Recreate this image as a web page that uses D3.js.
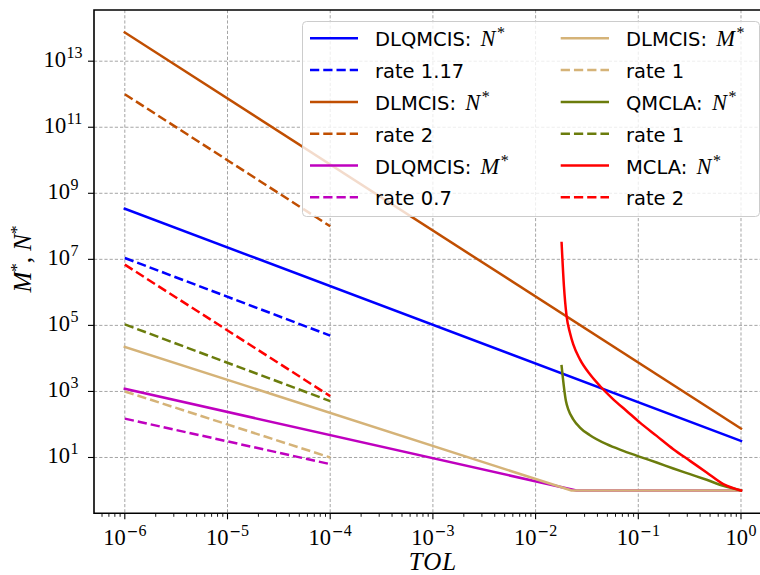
<!DOCTYPE html>
<html><head><meta charset="utf-8">
<script src="https://cdn.jsdelivr.net/npm/d3@7"></script>
<style>body{margin:0;background:#fff}svg{display:block}</style>
</head><body><svg id="chart" width="760" height="575"></svg>
<script>
// ---------- data ----------
const dlqmcisNTol = [1e-6, 1];
const dlqmcisN = [3.4e8, 31.6];
const rateDlqmcisNTol = [1e-6, 1e-4];
const rateDlqmcisN = [1.1e7, 4.9e4];
const dlmcisNTol = [1e-6, 1];
const dlmcisN = [7.4e13, 75];
const rateDlmcisNTol = [1e-6, 1e-4];
const rateDlmcisN = [1e12, 1e8];
const dlqmcisMTol = [1e-6, 0.025, 1];
const dlqmcisM = [1200, 1, 1];
const rateDlqmcisMTol = [1e-6, 1e-4];
const rateDlqmcisM = [150, 6.3];
const dlmcisMTol = [1e-6, 0.0224, 1];
const dlmcisM = [2.24e4, 1, 1];
const rateDlmcisMTol = [1e-6, 1e-4];
const rateDlmcisM = [1000, 10];
const qmclaNTol = [0.01792, 0.01974, 0.02080, 0.02327, 0.02703, 0.03383, 0.04915, 0.07143, 0.1038, 0.1509, 0.2193, 0.3187, 0.4630, 0.6728, 1];
const qmclaN = [5861, 514, 287.7, 143.6, 80.4, 47.2, 25.2, 15.85, 10.45, 7.05, 4.65, 3.13, 2.11, 1.39, 1.0];
const rateQmclaTol = [1e-6, 1e-4];
const rateQmcla = [1.07e5, 510];
const mclaNTol = [0.01792, 0.01888, 0.02004, 0.02160, 0.02327, 0.02703, 0.03383, 0.04233, 0.05706, 0.07698, 0.1038, 0.1509, 0.2193, 0.3187, 0.4630, 0.6728, 1];
const mclaN = [3.119e7, 1.531e6, 1.901e5, 5.957e4, 2.649e4, 9333, 3289, 1459, 576.8, 256.4, 113.8, 45.08, 17.82, 7.907, 3.516, 1.560, 1.0];
const rateMclaTol = [1e-6, 1e-4];
const rateMcla = [6.9e6, 720];

const legendText = ["DLQMCIS: ", "rate 1.17", "DLMCIS: ", "rate 2", "DLQMCIS: ", "rate 0.7",
                    "DLMCIS: ", "rate 1", "QMCLA: ", "rate 1", "MCLA: ", "rate 2"];
const legendMath = ["N", "", "N", "", "M", "", "M", "", "N", "", "N", ""];
const xTickExps = [-6, -5, -4, -3, -2, -1, 0];
const yTickExps = [1, 3, 5, 7, 9, 11, 13];
const xLimExp = [-6.3, 0.3];
const yLimExp = [-0.69, 14.55];

// ---------- styling ----------
const C = {blue: "#0000ff", orange: "#c04e01", magenta: "#bf00bf", tan: "#d5b378", olive: "#6b7c0c", red: "#ff0000"};
const series = [
  {tol: dlqmcisNTol, val: dlqmcisN, color: C.blue, dash: false},
  {tol: rateDlqmcisNTol, val: rateDlqmcisN, color: C.blue, dash: true},
  {tol: dlmcisNTol, val: dlmcisN, color: C.orange, dash: false},
  {tol: rateDlmcisNTol, val: rateDlmcisN, color: C.orange, dash: true},
  {tol: dlqmcisMTol, val: dlqmcisM, color: C.magenta, dash: false},
  {tol: rateDlqmcisMTol, val: rateDlqmcisM, color: C.magenta, dash: true},
  {tol: dlmcisMTol, val: dlmcisM, color: C.tan, dash: false},
  {tol: rateDlmcisMTol, val: rateDlmcisM, color: C.tan, dash: true},
  {tol: qmclaNTol, val: qmclaN, color: C.olive, dash: false, smooth: true},
  {tol: rateQmclaTol, val: rateQmcla, color: C.olive, dash: true},
  {tol: mclaNTol, val: mclaN, color: C.red, dash: false, smooth: true},
  {tol: rateMclaTol, val: rateMcla, color: C.red, dash: true}
];

const L = 94, R = 771.8, T = 10, B = 513.3;
const x = d3.scaleLog().domain([Math.pow(10, xLimExp[0]), Math.pow(10, xLimExp[1])]).range([L, R]);
const y = d3.scaleLog().domain([Math.pow(10, yLimExp[0]), Math.pow(10, yLimExp[1])]).range([B, T]);

const svg = d3.select("#chart");
const serif = "'Liberation Serif', 'DejaVu Serif', serif";
const sans = "'DejaVu Sans', sans-serif";

svg.append("defs").append("clipPath").attr("id", "clip")
  .append("rect").attr("x", L).attr("y", T).attr("width", R - L).attr("height", B - T);

// grid
const grid = svg.append("g").attr("stroke", "#8e8e8e").attr("stroke-width", 0.8).attr("stroke-dasharray", "3.2,2");
xTickExps.forEach(e => {
  const px = x(Math.pow(10, e));
  grid.append("line").attr("x1", px).attr("x2", px).attr("y1", T).attr("y2", B);
});
yTickExps.forEach(e => {
  const py = y(Math.pow(10, e));
  grid.append("line").attr("x1", L).attr("x2", R).attr("y1", py).attr("y2", py);
});

// data lines
const gData = svg.append("g").attr("clip-path", "url(#clip)");
series.forEach(s => {
  const pts = s.tol.map((t, i) => [t, s.val[i]]);
  const line = d3.line().x(d => x(d[0])).y(d => y(d[1]))
    .curve(s.smooth ? d3.curveMonotoneX : d3.curveLinear);
  gData.append("path").attr("d", line(pts)).attr("fill", "none")
    .attr("stroke", s.color).attr("stroke-width", 2.5)
    .attr("stroke-dasharray", s.dash ? "9.25,4" : null)
    .attr("stroke-linecap", s.dash ? "butt" : "square")
    .attr("stroke-linejoin", "round");
});

// axes: ticks
const ax = svg.append("g").attr("stroke", "#000");
xTickExps.forEach(e => {
  const px = x(Math.pow(10, e));
  ax.append("line").attr("x1", px).attr("x2", px).attr("y1", B).attr("y2", B + 6).attr("stroke-width", 1.1);
});
for (let e = -7; e <= 0; e++) {
  for (let m = 2; m <= 9; m++) {
    const v = m * Math.pow(10, e);
    const lv = Math.log10(v);
    if (lv < xLimExp[0] || lv > xLimExp[1]) continue;
    const px = x(v);
    ax.append("line").attr("x1", px).attr("x2", px).attr("y1", B).attr("y2", B + 3.5).attr("stroke-width", 0.9);
  }
}
yTickExps.forEach(e => {
  const py = y(Math.pow(10, e));
  ax.append("line").attr("x1", L - 6).attr("x2", L).attr("y1", py).attr("y2", py).attr("stroke-width", 1.1);
});

// spines
svg.append("path").attr("d", `M${L},${T}H${R}M${L},${T}V${B}H${R}`)
  .attr("fill", "none").attr("stroke", "#000").attr("stroke-width", 1.6).attr("stroke-linecap", "square");

// tick labels
function powLabel(g, px, py, e, anchor) {
  const t = g.append("text").attr("x", px).attr("y", py).attr("text-anchor", anchor)
    .attr("font-family", serif).attr("font-size", 22.5).attr("fill", "#000");
  t.append("tspan").text("10");
  const s = String(e);
  if (s[0] === "-") {
    t.append("tspan").attr("dy", -9).attr("dx", 1).attr("font-family", "'DejaVu Serif', serif").attr("font-size", 14).text("\u2212");
    t.append("tspan").attr("font-size", 16).text(s.slice(1));
  } else {
    t.append("tspan").attr("dy", -9).attr("dx", 0.5).attr("font-size", 16).text(s);
  }
}
const gl = svg.append("g");
xTickExps.forEach(e => powLabel(gl, x(Math.pow(10, e)), 545, e, "middle"));
yTickExps.forEach(e => powLabel(gl, 63, y(Math.pow(10, e)) + 6, e, "middle"));

// axis labels
svg.append("text").attr("x", 433).attr("y", 570).attr("text-anchor", "middle")
  .attr("font-family", serif).attr("font-style", "italic").attr("font-size", 25).attr("letter-spacing", 1).text("TOL");
const yl = svg.append("text").attr("transform", "translate(31,259) rotate(-90)").attr("text-anchor", "middle")
  .attr("font-family", serif).attr("font-size", 25);
yl.append("tspan").attr("font-style", "italic").text("M");
yl.append("tspan").attr("dy", -9).attr("font-size", 17).text("*");
yl.append("tspan").attr("dy", 9).text(", ");
yl.append("tspan").attr("font-style", "italic").text("N");
yl.append("tspan").attr("dy", -9).attr("font-size", 17).text("*");

// legend
const lg = svg.append("g");
lg.append("rect").attr("x", 302.5).attr("y", 21.5).attr("width", 457).attr("height", 195).attr("rx", 4)
  .attr("fill", "#fff").attr("fill-opacity", 0.8).attr("stroke", "#cccccc").attr("stroke-width", 1);
const rowY0 = 38.3, rowDy = 31.8;
const colLineX = [[310, 358], [560.7, 609]];
const colTextX = [375, 626];
series.forEach((s, i) => {
  const col = Math.floor(i / 6), row = i % 6;
  const ry = rowY0 + row * rowDy;
  lg.append("line").attr("x1", colLineX[col][0]).attr("x2", colLineX[col][1]).attr("y1", ry).attr("y2", ry)
    .attr("stroke", s.color).attr("stroke-width", 2.5).attr("stroke-dasharray", s.dash ? "9.25,4" : null);
  const t = lg.append("text").attr("x", colTextX[col]).attr("y", ry + 8)
    .attr("font-family", sans).attr("font-size", 19.5).attr("fill", "#000");
  t.append("tspan").text(legendText[i]);
  if (legendMath[i]) {
    t.append("tspan").attr("dx", 3).attr("font-family", serif).attr("font-style", "italic").attr("font-size", 22.5).text(legendMath[i]);
    t.append("tspan").attr("font-family", serif).attr("font-size", 16).attr("dy", -8).attr("dx", 1.5).text("*");
  }
});
</script></body></html>
